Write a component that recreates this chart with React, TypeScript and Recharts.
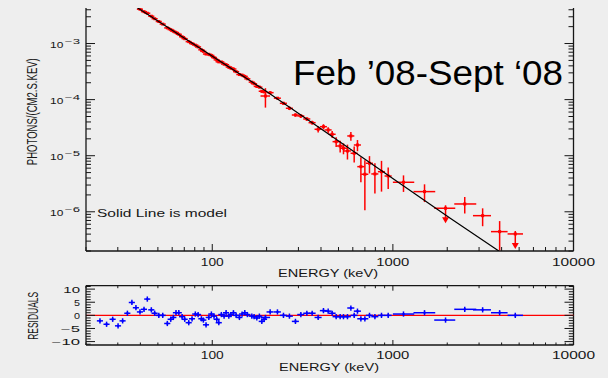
import React from 'react';
import { ComposedChart, Scatter, Line, XAxis, YAxis, ErrorBar, ReferenceLine } from 'recharts';

// bin centres (keV)
const energy = [
  23.9, 26.0, 28.1, 30.1, 31.9, 33.9, 35.9, 37.8, 39.8, 41.9,
  43.7, 46.0, 48.0, 50.6, 53.2, 56.4, 58.9, 60.9, 63.0, 65.3,
  68.1, 70.4, 74.1, 77.3, 80.6, 83.5, 87.1, 89.3, 92.4, 95.7,
  98.9, 102.3, 105.9, 108.7, 112.3, 116.3, 119.3, 123.5, 126.7, 131.0,
  135.6, 141.4, 146.3, 151.4, 156.5, 165.6, 170.5, 176.5, 182.4, 188.1,
  193.7, 197.0, 209.2, 229.6, 247.9, 267.5, 288.8, 309.4, 334.0, 357.4,
  385.8, 412.8, 438.3, 461.3, 485.3, 510.7, 532.7, 560.5, 585.4, 610.6,
  636.8, 665.1, 699.8, 742.2, 795.3, 865.0, 942.1, 1145, 1497, 1957,
  2500, 3140, 3900, 4761,
];

// half bin widths (keV), [below, above] for the wide high-energy bins
const energyErr: (number | [number, number])[] = [
  0.93, 1.01, 1.10, 1.17, 1.24, 1.32, 1.40, 1.47, 1.55, 1.63,
  1.70, 1.79, 1.87, 1.97, 2.07, 2.20, 2.30, 2.38, 2.46, 2.55,
  2.66, 2.75, 2.89, 3.01, 3.14, 3.26, 3.40, 3.48, 3.60, 3.73,
  3.86, 3.99, 4.13, 4.24, 4.38, 4.54, 4.65, 4.82, 4.94, 5.11,
  5.29, 5.51, 5.71, 5.90, 6.10, 6.46, 6.65, 6.88, 7.11, 7.34,
  7.55, 12.0, 9.4, 10.3, 11.2, 12.0, 13.0, 13.9, 15.0, 16.1,
  17.4, 18.6, 19.7, 20.8, 21.8, 23.0, 24.0, 25.2, 26.3, 27.5,
  28.7, 29.9, 31.5, 33.4, 35.8, 38.9, 42.4, [145, 168], [196, 219], [263, 258],
  [313, 395], [364, 353], [407, 416], [445, 492],
];

// photons / (cm2 s keV)
const flux = [
  1.163e-2, 9.66e-3, 8.32e-3, 7.12e-3, 6.36e-3, 5.72e-3, 5.17e-3, 4.59e-3, 4.09e-3, 3.70e-3,
  3.47e-3, 3.07e-3, 2.77e-3, 2.47e-3, 2.22e-3, 1.90e-3, 1.77e-3, 1.66e-3, 1.57e-3, 1.46e-3,
  1.32e-3, 1.22e-3, 1.08e-3, 1.00e-3, 9.36e-4, 8.70e-4, 7.73e-4, 7.25e-4, 6.50e-4, 6.42e-4,
  6.14e-4, 5.63e-4, 5.11e-4, 4.71e-4, 4.69e-4, 4.31e-4, 4.19e-4, 3.81e-4, 3.65e-4, 3.51e-4,
  3.15e-4, 2.80e-4, 2.73e-4, 2.59e-4, 2.35e-4, 2.05e-4, 1.92e-4, 1.72e-4, 1.67e-4, 1.41e-4,
  1.38e-4, 1.16e-4, 1.33e-4, 1.06e-4, 8.60e-5, 7.01e-5, 5.32e-5, 5.11e-5, 4.52e-5, 3.88e-5,
  2.96e-5, 3.29e-5, 2.88e-5, 2.41e-5, 1.78e-5, 1.49e-5, 1.36e-5, 1.215e-5, 2.25e-5, 1.105e-5,
  1.553e-5, 6.38e-6, 4.67e-6, 7.33e-6, 4.73e-6, 5.19e-6, 4.35e-6, 3.36e-6, 2.29e-6, 1.157e-6,
  1.379e-6, 8.53e-7, 4.43e-7, 4.03e-7,
];

const fluxErr = [
  7.0e-5, 5.8e-5, 5.0e-5, 4.3e-5, 3.8e-5, 3.4e-5, 3.1e-5, 2.7e-5, 2.4e-5, 2.2e-5,
  2.0e-5, 3.0e-5, 2.7e-5, 2.5e-5, 2.2e-5, 2.0e-5, 1.8e-5, 1.7e-5, 1.6e-5, 1.4e-5,
  1.3e-5, 1.2e-5, 1.1e-5, 1.0e-5, 9.3e-6, 8.7e-6, 1.6e-5, 1.5e-5, 1.4e-5, 1.3e-5,
  1.2e-5, 1.1e-5, 1.05e-5, 1.0e-5, 9.3e-6, 8.7e-6, 8.2e-6, 7.7e-6, 7.3e-6, 1.2e-5,
  1.1e-5, 1.0e-5, 9.4e-6, 8.8e-6, 8.2e-6, 7.2e-6, 6.8e-6, 9.1e-6, 8.5e-6, 7.9e-6,
  7.5e-6, 4.4e-5, 6.0e-6, 5.0e-6, 5.2e-6, 5.0e-6, 3.7e-6, 4.0e-6, 3.5e-6, 3.3e-6,
  3.8e-6, 3.5e-6, 3.5e-6, 3.5e-6, 3.5e-6, 3.5e-6, 3.0e-6, 3.6e-6, 4.0e-6, 3.5e-6,
  3.5e-6, 3.0e-6, 3.6e-6, 2.5e-6, 2.6e-6, 2.9e-6, 1.8e-6, 1.1e-6, 8.0e-7, 0,
  4.5e-7, 3.0e-7, 2.4e-7, 0,
];

// (data - model) / sigma
const residual = [
  -2.1, -3.4, -1.5, -4.0, -2.1, 0.8, 4.9, 2.9, 1.3, 2.3,
  6.2, 2.1, 0.8, 0.0, 0.0, -3.1, -1.5, -0.8, 1.0, 1.0,
  -0.5, -1.5, -2.8, -1.3, 0.5, 0.3, -1.3, -1.8, -3.6, -0.8,
  0.5, -0.3, -1.5, -2.8, 0.3, -0.3, 1.0, -0.3, 0.3, 1.0,
  0.0, -0.8, 0.5, 1.0, 0.3, -0.3, -0.5, -1.0, -0.3, -2.3,
  -1.5, -0.8, 1.3, 1.3, 0.0, -0.3, -2.3, 0.3, 0.8, 0.8,
  -0.8, 1.8, 1.6, 0.8, -0.5, -0.5, -0.5, -0.5, 2.8, 0.0,
  1.6, -1.3, -1.3, 0.0, -0.5, 0.0, 0.0, 0.5, 1.0, -1.8,
  2.3, 2.1, 1.0, 0.0,
];

// bins given as upper limits
const upperLimitEnergy = [1957, 4761];

// fitted model curve
const modelEnergy = [37, 196.2, 395.8, 2078, 3860];
const modelFlux = [4.73e-3, 1.455e-4, 3.08e-5, 7.67e-7, 2.0e-7];

const energyTicks = [
  20, 30, 40, 50, 60, 70, 80, 90, 100, 200, 300, 400, 500, 600, 700, 800, 900,
  1000, 2000, 3000, 4000, 5000, 6000, 7000, 8000, 9000, 10000,
];
const energyLabels = [100, 1000, 10000];
const fluxTicks = [
  2e-7, 3e-7, 4e-7, 5e-7, 6e-7, 7e-7, 8e-7, 9e-7,
  1e-6, 2e-6, 3e-6, 4e-6, 5e-6, 6e-6, 7e-6, 8e-6, 9e-6,
  1e-5, 2e-5, 3e-5, 4e-5, 5e-5, 6e-5, 7e-5, 8e-5, 9e-5,
  1e-4, 2e-4, 3e-4, 4e-4, 5e-4, 6e-4, 7e-4, 8e-4, 9e-4,
  1e-3, 2e-3, 3e-3, 4e-3,
];
const residualTicks = [-11, -10, -9, -8, -7, -6, -5, -4, -3, -2, -1, 0, 1, 2, 3, 4, 5, 6, 7, 8, 9, 10, 11];
const residualLabels = [-10, -5, 0, 5, 10];

const spectrum = energy.map((e, i) => ({
  e,
  eErr: energyErr[i],
  f: flux[i],
  fErr: fluxErr[i],
  ul: upperLimitEnergy.includes(e),
}));
const resid = energy.map((e, i) => ({ e, eErr: energyErr[i], r: residual[i], rErr: 1 }));
const model = modelEnergy.map((e, i) => ({ e, f: modelFlux[i] }));

const W = 608;
const LEFT = 86;
const RIGHT = 34.5;
const PLOT_W = W - LEFT - RIGHT;
// the spectrum panel starts at y=8 so anything above the flux range is cut off by the svg edge
const TOP_Y = 8;
const TOP_H = 262;
const TOP_MARGIN = { top: 0, right: RIGHT, bottom: 18, left: LEFT - 1 };
const RES_Y = 270;
const RES_H = 108;
const RES_MARGIN = { top: 15.7, right: RIGHT, bottom: 32, left: LEFT - 1 };
const RES_PLOT_H = RES_H - RES_MARGIN.top - RES_MARGIN.bottom - 1;
const E_DOMAIN: [number, number] = [20, 10000];
const R_MAX = 11.3;

const INK = '#161616';
const RED = '#ff0000';
const BLUE = '#0000ff';
const BG = '#eeeeee';
const FONT = '"Liberation Sans", Arial, sans-serif';

const EnergyTick = (props: any) => {
  const { x, y, payload, major, minor, gap, boxHeight } = props;
  const v = payload.value;
  const isMajor = energyLabels.includes(v);
  const len = isMajor ? major : minor;
  const label = String(v);
  return (
    <g>
      <line x1={x} x2={x} y1={y} y2={y - len} stroke={INK} strokeWidth={1} />
      {boxHeight ? (
        <line x1={x} x2={x} y1={y - boxHeight} y2={y - boxHeight + len} stroke={INK} strokeWidth={1} />
      ) : null}
      {isMajor && (
        <text
          x={x}
          y={y + gap}
          textAnchor="middle"
          fontFamily={FONT}
          fontSize={10.5}
          fill={INK}
          textLength={label.length * 10 - 7}
          lengthAdjust="spacingAndGlyphs"
        >
          {label}
        </text>
      )}
    </g>
  );
};

const FluxTick = (props: any) => {
  const { x, y, payload } = props;
  const v = payload.value;
  const exp = Math.round(Math.log10(v));
  const isMajor = Math.abs(v / Math.pow(10, exp) - 1) < 1e-6;
  const len = isMajor ? 9 : 5;
  return (
    <g>
      <line x1={x} x2={x + len} y1={y} y2={y} stroke={INK} strokeWidth={1} />
      <line x1={x + PLOT_W} x2={x + PLOT_W - len} y1={y} y2={y} stroke={INK} strokeWidth={1} />
      {isMajor && (
        <g fontFamily={FONT} fill={INK}>
          <text x={x - 36} y={y + 4} fontSize={9.5} textLength={13.3} lengthAdjust="spacingAndGlyphs">
            10
          </text>
          <text x={x - 21} y={y} fontSize={6.5} textLength={15} lengthAdjust="spacingAndGlyphs">
            {'\u2212' + Math.abs(exp)}
          </text>
        </g>
      )}
    </g>
  );
};

const residualLabelWidth: Record<string, number> = { '10': 16.7, '5': 6, '0': 6, '-5': 19, '-10': 28.3 };

const ResidualTick = (props: any) => {
  const { x, y, payload } = props;
  const v = payload.value;
  const isMajor = residualLabels.includes(v);
  const len = isMajor ? 9 : 4.7;
  const key = String(v);
  return (
    <g>
      <line x1={x} x2={x + len} y1={y} y2={y} stroke={INK} strokeWidth={1} />
      <line x1={x + PLOT_W} x2={x + PLOT_W - len} y1={y} y2={y} stroke={INK} strokeWidth={1} />
      {isMajor && (
        <text
          x={x - 6}
          y={y + 3.5}
          textAnchor="end"
          fontFamily={FONT}
          fontSize={8.5}
          fill={INK}
          textLength={residualLabelWidth[key]}
          lengthAdjust="spacingAndGlyphs"
        >
          {v < 0 ? '\u2212' + Math.abs(v) : key}
        </text>
      )}
    </g>
  );
};

// red data point; upper limits get a downward arrow
const SpectrumPoint = (props: any) => {
  const { cx, cy, payload } = props;
  if (cx == null || cy == null) return <g />;
  return (
    <g>
      <rect x={cx - 1.5} y={cy - 1.5} width={3} height={3} fill={RED} />
      {payload.ul && (
        <g>
          <line x1={cx} x2={cx} y1={cy - 3} y2={cy + 10} stroke={RED} strokeWidth={1.5} />
          <polygon points={`${cx - 3.5},${cy + 9} ${cx + 3.5},${cy + 9} ${cx},${cy + 15}`} fill={RED} />
        </g>
      )}
    </g>
  );
};

const ResidualPoint = (props: any) => {
  const { cx, cy } = props;
  if (cx == null || cy == null) return <g />;
  return <rect x={cx - 1} y={cy - 1} width={2} height={2} fill={BLUE} />;
};

export default function App() {
  return (
    <div
      style={{
        position: 'absolute',
        left: 0,
        top: 0,
        width: W,
        height: 378,
        background: BG,
        overflow: 'hidden',
      }}
    >
      <div style={{ position: 'absolute', left: 0, top: TOP_Y }}>
        <ComposedChart width={W} height={TOP_H} margin={TOP_MARGIN}>
          <XAxis
            dataKey="e"
            type="number"
            scale="log"
            domain={E_DOMAIN}
            allowDataOverflow
            ticks={energyTicks}
            interval={0}
            height={1}
            tickSize={0}
            tickMargin={0}
            tickLine={false}
            axisLine={{ stroke: INK, strokeWidth: 1.3 }}
            tick={(p: any) => <EnergyTick {...p} major={7} minor={4} gap={15} />}
          />
          <YAxis
            dataKey="f"
            type="number"
            scale="log"
            domain={[2e-7, 4.3e-3]}
            allowDataOverflow
            ticks={fluxTicks}
            interval={0}
            width={1}
            tickSize={0}
            tickMargin={0}
            tickLine={false}
            axisLine={{ stroke: INK, strokeWidth: 1.3 }}
            tick={(p: any) => <FluxTick {...p} />}
          />
          <ReferenceLine x={10000} stroke={INK} strokeWidth={1.3} />
          <Scatter data={spectrum} dataKey="f" shape={<SpectrumPoint />} isAnimationActive={false}>
            <ErrorBar dataKey="eErr" direction="x" width={0} stroke={RED} strokeWidth={1.5} />
            <ErrorBar dataKey="fErr" direction="y" width={0} stroke={RED} strokeWidth={1.5} />
          </Scatter>
          <Line
            data={model}
            dataKey="f"
            type="linear"
            stroke="#000000"
            strokeWidth={1.2}
            dot={false}
            activeDot={false}
            isAnimationActive={false}
            zIndex={1000}
          />
        </ComposedChart>
      </div>

      <div style={{ position: 'absolute', left: 0, top: RES_Y }}>
        <ComposedChart width={W} height={RES_H} margin={RES_MARGIN}>
          <XAxis
            dataKey="e"
            type="number"
            scale="log"
            domain={E_DOMAIN}
            allowDataOverflow
            ticks={energyTicks}
            interval={0}
            height={1}
            tickSize={0}
            tickMargin={0}
            tickLine={false}
            axisLine={{ stroke: INK, strokeWidth: 1.3 }}
            tick={(p: any) => <EnergyTick {...p} major={5} minor={2.5} gap={14.3} boxHeight={RES_PLOT_H} />}
          />
          <YAxis
            dataKey="r"
            type="number"
            domain={[-R_MAX, R_MAX]}
            allowDataOverflow
            ticks={residualTicks}
            interval={0}
            width={1}
            tickSize={0}
            tickMargin={0}
            tickLine={false}
            axisLine={{ stroke: INK, strokeWidth: 1.3 }}
            tick={(p: any) => <ResidualTick {...p} />}
          />
          <ReferenceLine x={10000} stroke={INK} strokeWidth={1.3} />
          <ReferenceLine y={R_MAX} stroke={INK} strokeWidth={1.3} />
          <ReferenceLine y={0} stroke={RED} strokeWidth={1.2} />
          <Scatter data={resid} dataKey="r" shape={<ResidualPoint />} isAnimationActive={false}>
            <ErrorBar dataKey="eErr" direction="x" width={0} stroke={BLUE} strokeWidth={1.5} />
            <ErrorBar dataKey="rErr" direction="y" width={0} stroke={BLUE} strokeWidth={1.5} />
          </Scatter>
        </ComposedChart>
      </div>

      <svg
        width={W}
        height={378}
        style={{ position: 'absolute', left: 0, top: 0, pointerEvents: 'none' }}
        fontFamily={FONT}
        fill={INK}
      >
        <text x={293} y={85} fontSize={35} fill="#000000" textLength={270} lengthAdjust="spacingAndGlyphs">
          Feb ’08-Sept ‘08
        </text>
        <text x={97} y={216.7} fontSize={11.5} textLength={130} lengthAdjust="spacingAndGlyphs">
          Solid Line is model
        </text>
        <text
          transform="translate(37.3,111.7) rotate(-90)"
          textAnchor="middle"
          fontSize={14.5}
          textLength={107}
          lengthAdjust="spacingAndGlyphs"
        >
          PHOTONS/(CM2.S.KEV)
        </text>
        <text
          transform="translate(38.3,315.8) rotate(-90)"
          textAnchor="middle"
          fontSize={15}
          textLength={48}
          lengthAdjust="spacingAndGlyphs"
        >
          RESIDUALS
        </text>
        <text x={278} y={277} fontSize={10.5} textLength={100} lengthAdjust="spacingAndGlyphs">
          ENERGY (keV)
        </text>
        <text x={279} y={371} fontSize={10.5} textLength={100} lengthAdjust="spacingAndGlyphs">
          ENERGY (keV)
        </text>
      </svg>
    </div>
  );
}
